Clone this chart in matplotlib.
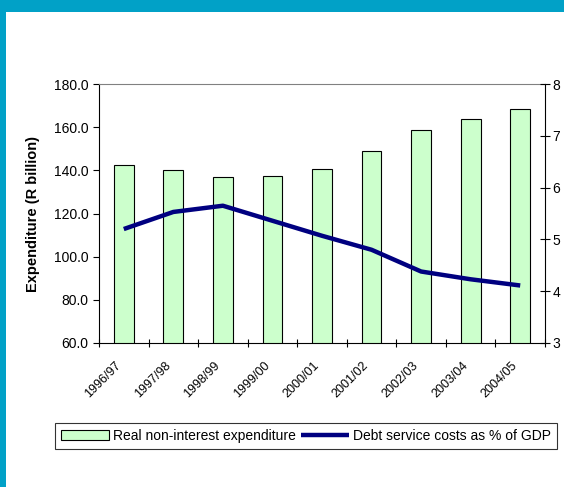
import matplotlib.pyplot as plt
from matplotlib.patches import Rectangle
from matplotlib.transforms import ScaledTranslation

plt.rcParams['font.family'] = ['Liberation Sans', 'DejaVu Sans']

years = ['1996/97', '1997/98', '1998/99', '1999/00', '2000/01',
         '2001/02', '2002/03', '2003/04', '2004/05']
expenditure = [142.5, 140.2, 137.1, 137.2, 140.8, 149.1, 158.8, 163.6, 168.4]
debt_cost = [5.20, 5.53, 5.65, 5.36, 5.07, 4.80, 4.38, 4.23, 4.11]

fig = plt.figure(figsize=(5.64, 4.87), dpi=100)

# blue frame: top band and left strip
fig.patches.append(Rectangle((0, 1 - 12 / 487), 1, 12 / 487, transform=fig.transFigure,
                             facecolor='#01a1c7', edgecolor='none', zorder=0))
fig.patches.append(Rectangle((0, 0), 6 / 564, 1, transform=fig.transFigure,
                             facecolor='#01a1c7', edgecolor='none', zorder=0))

ax = fig.add_axes([99 / 564, 1 - 343 / 487, 446 / 564, 259 / 487])
n = len(years)
centers = [i + 0.5 for i in range(n)]

ax.bar(centers, expenditure, width=0.4, color='#ccffcc', edgecolor='black',
       linewidth=0.8, label='Real non-interest expenditure', zorder=2)
ax.set_xlim(0, n)
ax.set_ylim(60, 180)
ax.set_yticks([60, 80, 100, 120, 140, 160, 180])
ax.set_yticklabels(['%.1f' % v for v in [60, 80, 100, 120, 140, 160, 180]], fontsize=10)
ax.set_ylabel('Expenditure (R billion)', fontsize=10.5, fontweight='bold', labelpad=10)

ax.set_xticks(range(n + 1))
ax.set_xticklabels([])
ax.set_xticks(centers, minor=True)
ax.set_xticklabels(years, minor=True, rotation=45, ha='right',
                   rotation_mode='anchor', fontsize=9)
ax.tick_params(axis='x', which='major', direction='inout', length=6, width=0.8)
ax.tick_params(axis='x', which='minor', length=0, pad=12)
ax.tick_params(axis='y', direction='out', length=4, width=0.8)
shift = ScaledTranslation(-9 / 100, 0, fig.dpi_scale_trans)
for lab in ax.get_xticklabels(minor=True):
    lab.set_transform(lab.get_transform() + shift)

ax.spines['top'].set_color('#808080')
ax.spines['right'].set_visible(False)

ax2 = ax.twinx()
ax2.plot(centers, debt_cost, color='#000080', linewidth=3.2,
         solid_capstyle='butt', label='Debt service costs as % of GDP', zorder=3)
ax2.set_ylim(3, 8)
ax2.set_yticks([3, 4, 5, 6, 7, 8])
ax2.tick_params(axis='y', direction='inout', length=7, width=0.8, labelsize=10, pad=2)
ax2.spines['top'].set_visible(False)
ax2.spines['left'].set_visible(False)
ax2.spines['bottom'].set_visible(False)

h1, l1 = ax.get_legend_handles_labels()
h2, l2 = ax2.get_legend_handles_labels()
leg = fig.legend(h1 + h2, l1 + l2, loc='center', ncol=2,
                 bbox_to_anchor=(306 / 564, 1 - 436 / 487), fontsize=10,
                 frameon=True, fancybox=False, edgecolor='black',
                 handlelength=3.5, handletextpad=0.3, columnspacing=0.3,
                 borderpad=0.4, handleheight=0.8)
leg.get_frame().set_linewidth(0.8)

fig.savefig('out.png', dpi=100)
